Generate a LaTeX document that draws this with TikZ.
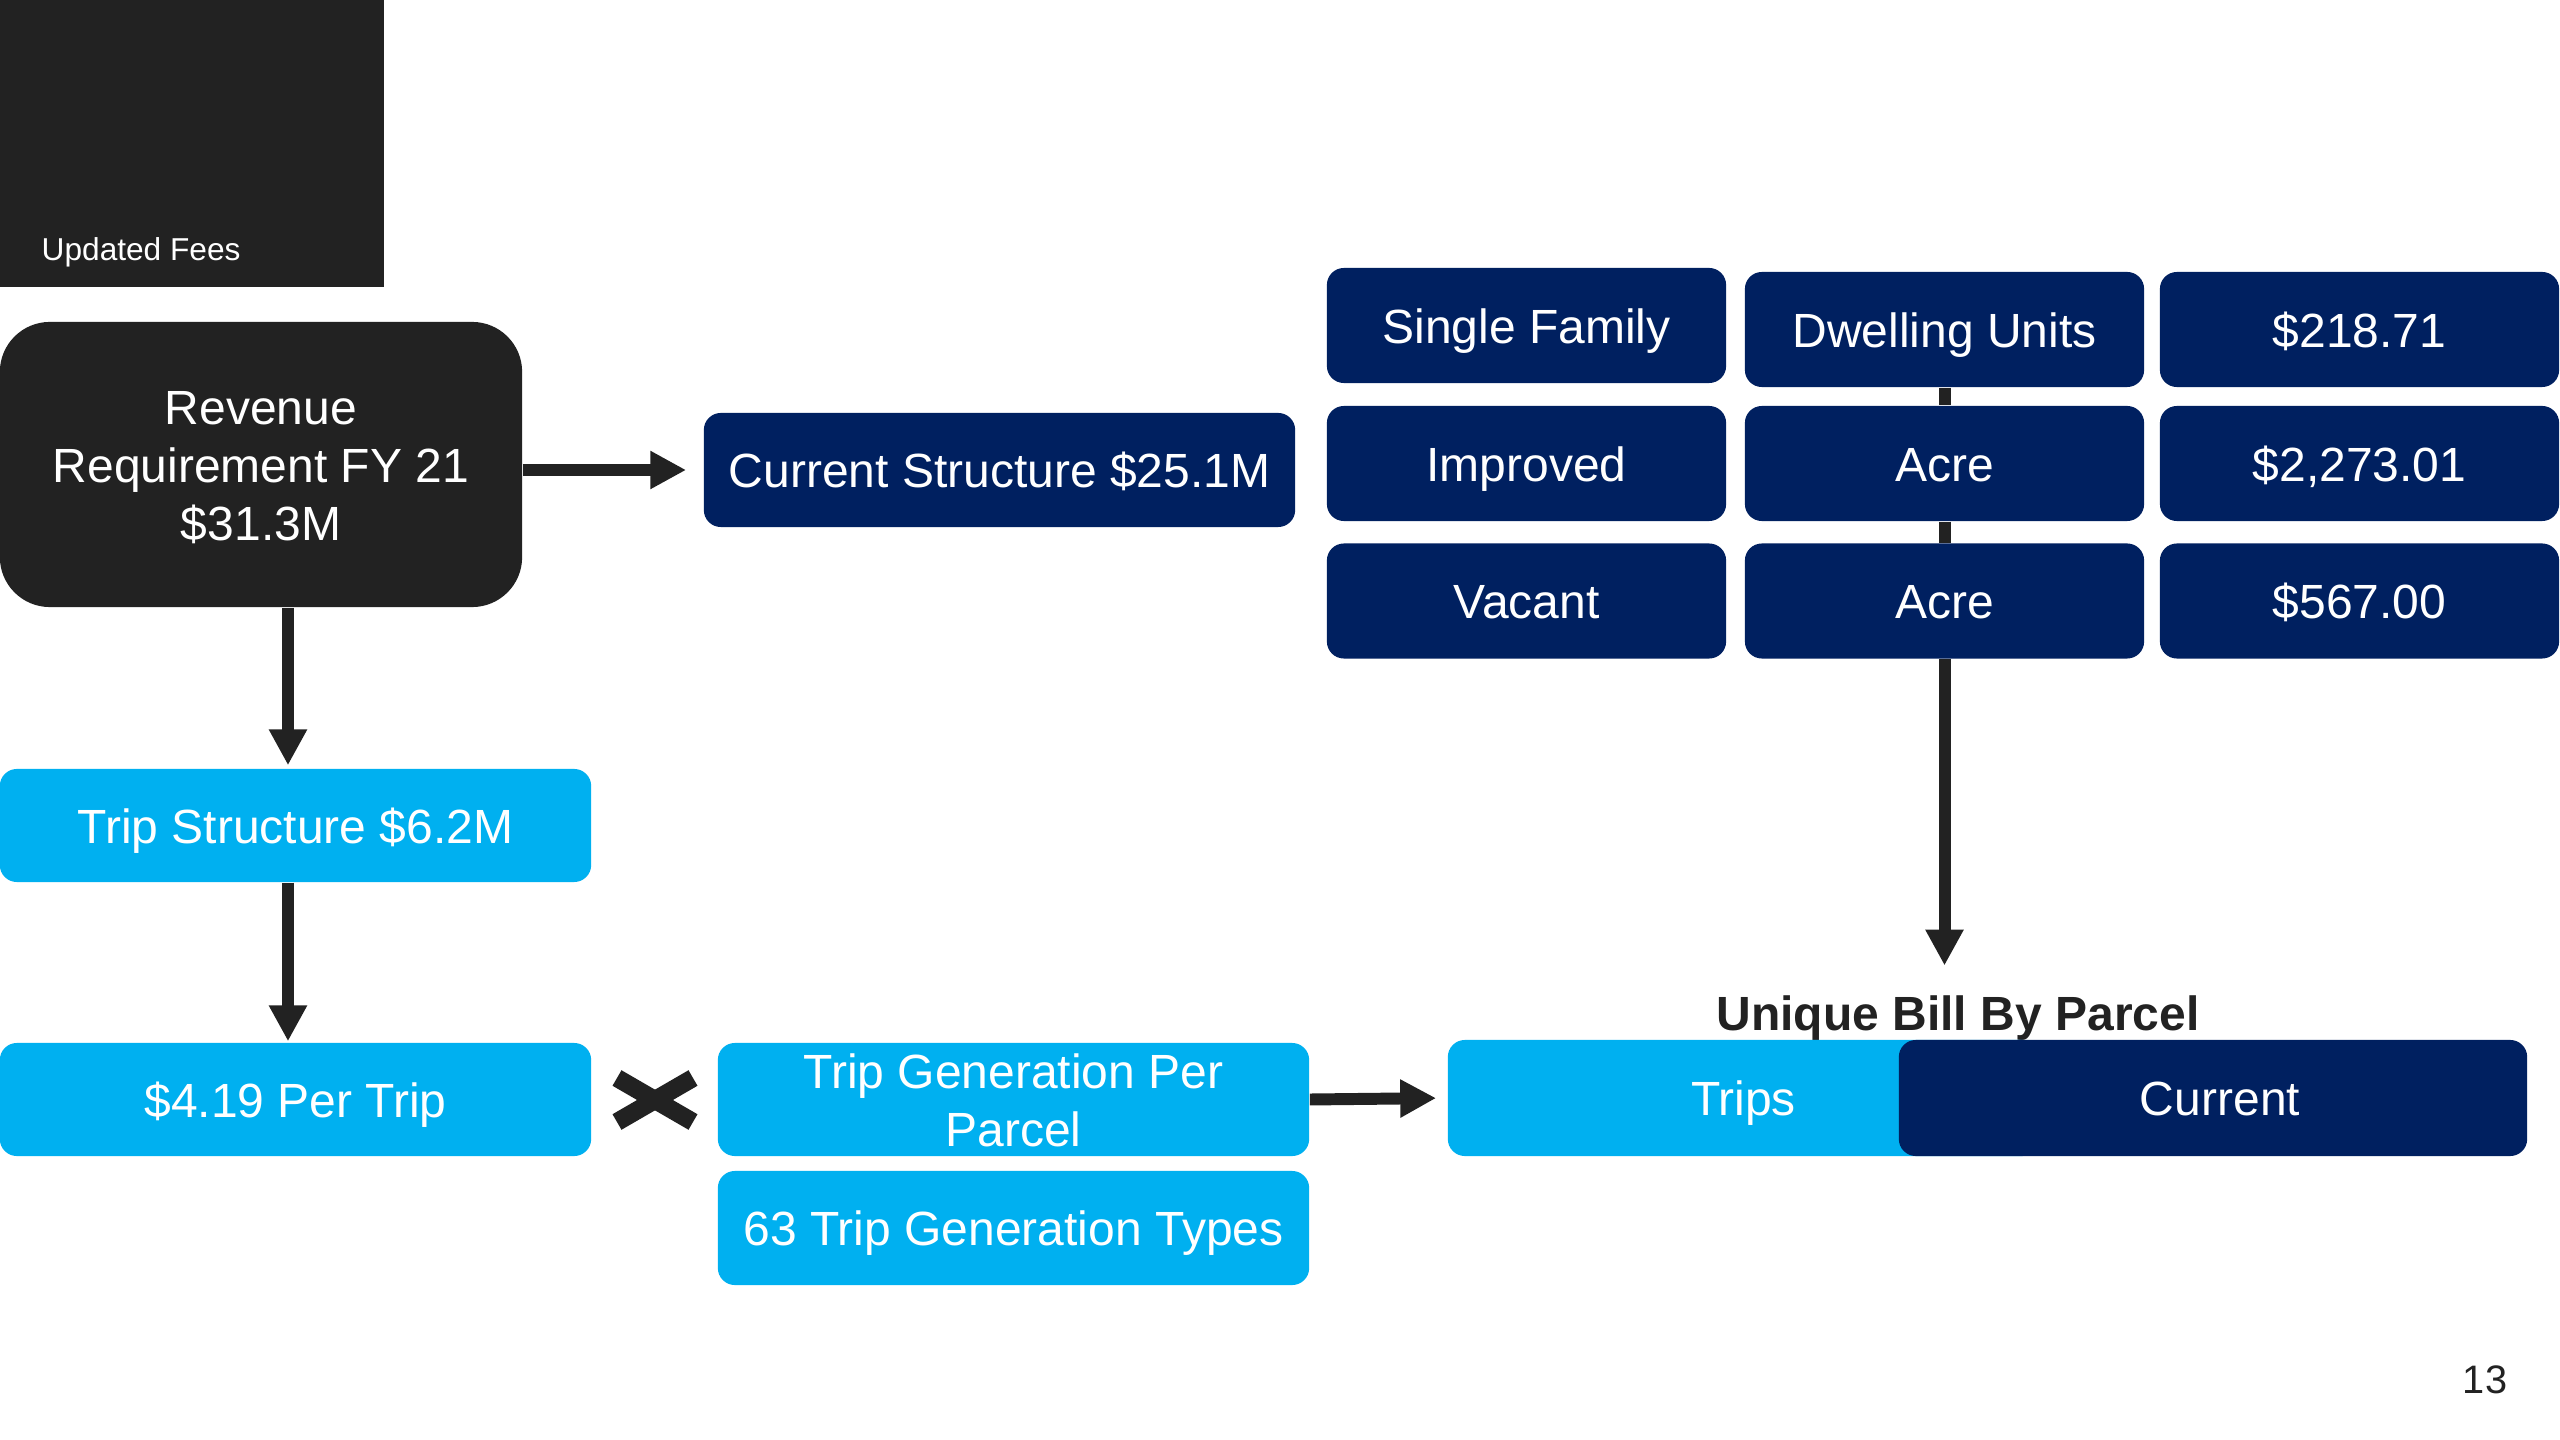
\documentclass[tikz,border=0pt]{standalone}
\usepackage{fontspec}
\setmainfont{Liberation Sans}
\usetikzlibrary{arrows.meta,calc}
\definecolor{dk}{HTML}{222222}
\definecolor{navy}{HTML}{002060}
\definecolor{lblue}{HTML}{00B0F0}
\begin{document}
\begin{tikzpicture}[x=0.01cm,y=-0.01cm,
  mainfont/.style={font=\fontsize{13.65}{16.4}\selectfont},
  box/.style={mainfont, text=white, align=center, inner sep=0pt, rounded corners=0.17cm,
    text height=10.2pt, text depth=0pt},
  darkbox/.style={box, fill=dk, rounded corners=0.5cm},
  navybox/.style={box, fill=navy},
  bluebox/.style={box, fill=lblue},
  wide/.style={minimum width=5.91cm, minimum height=1.14cm},
  cell/.style={minimum width=3.99cm, minimum height=1.15cm},
  conn/.style={draw=dk, line width=3.4pt, -{Triangle[length=10.2pt,width=10.2pt]}},
  link/.style={draw=dk, line width=3.4pt}
]
\useasboundingbox (0,0) rectangle (2560,1440);
\fill[white] (0,0) rectangle (2560,1440);

% title block
\node[fill=dk, minimum width=3.84cm, minimum height=2.87cm, inner sep=0pt] (title) at (192,143.5) {};
\node[anchor=base west, text=white, inner sep=0pt, font=\fontsize{9}{11}\selectfont] (titletext) at (41,261) {Updated Fees};

% left column
\node[darkbox, text height=43pt, minimum width=5.22cm, minimum height=2.85cm] (rev) at (261,464.5) {Revenue\\Requirement FY 21\\\$31.3M};
\node[navybox, wide] (cur) at (999.5,470) {Current Structure \$25.1M};
\node[bluebox, wide, minimum height=1.13cm] (trip) at (295.5,825.5) {Trip Structure \$6.2M};
\node[bluebox, wide, minimum height=1.13cm] (per) at (295.5,1099.5) {\$4.19 Per Trip};
\node[bluebox, wide, text height=26.6pt, minimum height=1.13cm] (tgp) at (1013.5,1099.5) {Trip Generation Per\\Parcel};
\node[bluebox, wide] (t63) at (1013.5,1228) {63 Trip Generation Types};

% times sign
\node[inner sep=0pt, minimum size=0.1cm] (times) at (655,1100) {};
\draw[dk, line width=5.1pt] ($(times)+(-38,-22)$) -- ($(times)+(38,22)$);
\draw[dk, line width=5.1pt] ($(times)+(-38,22)$) -- ($(times)+(38,-22)$);

% grid
\node[navybox, cell] (sf) at (1526.5,325.5) {Single Family};
\node[navybox, cell] (du) at (1944.5,329.5) {Dwelling Units};
\node[navybox, cell] (p1) at (2359.5,329.5) {\$218.71};
\node[navybox, cell] (imp) at (1526.5,463.5) {Improved};
\node[navybox, cell] (ac1) at (1944.5,463.5) {Acre};
\node[navybox, cell] (p2) at (2359.5,463.5) {\$2,273.01};
\node[navybox, cell] (vac) at (1526.5,601) {Vacant};
\node[navybox, cell] (ac2) at (1944.5,601) {Acre};
\node[navybox, cell] (p3) at (2359.5,601) {\$567.00};

% unique bill
\node[text=dk, anchor=base, inner sep=0pt, font=\bfseries\fontsize{13.65}{16.8}\selectfont] (ubl) at (1958,1031) {Unique Bill By Parcel};
\node[bluebox, minimum width=5.91cm, minimum height=1.16cm] (trips) at (1743.5,1098) {Trips};
\node[navybox, minimum width=6.28cm, minimum height=1.16cm] (current) at (2213,1098) {\hspace*{0.14cm}Current};

% page number
\node[text=dk, inner sep=0pt, font=\fontsize{11.3}{13}\selectfont] (pnum) at (2485,1380) {13};

% connectors
\coordinate (ax) at (288,0);
\draw[conn, shorten >=0.17cm] (rev.east |- cur.west) -- (cur.west);
\draw[conn, shorten >=0.03cm] (rev.south -| ax) -- (trip.north -| ax);
\draw[conn, shorten >=0.01cm] (trip.south -| ax) -- (per.north -| ax);
\draw[conn, shorten >=0.11cm] (tgp.east) -- (trips.west);
\draw[link] (du.south) -- (ac1.north);
\draw[link] (ac1.south) -- (ac2.north);
\draw[conn, shorten >=0.30cm] (ac2.south) -- (ac2.south |- ubl.north);
\end{tikzpicture}
\end{document}
